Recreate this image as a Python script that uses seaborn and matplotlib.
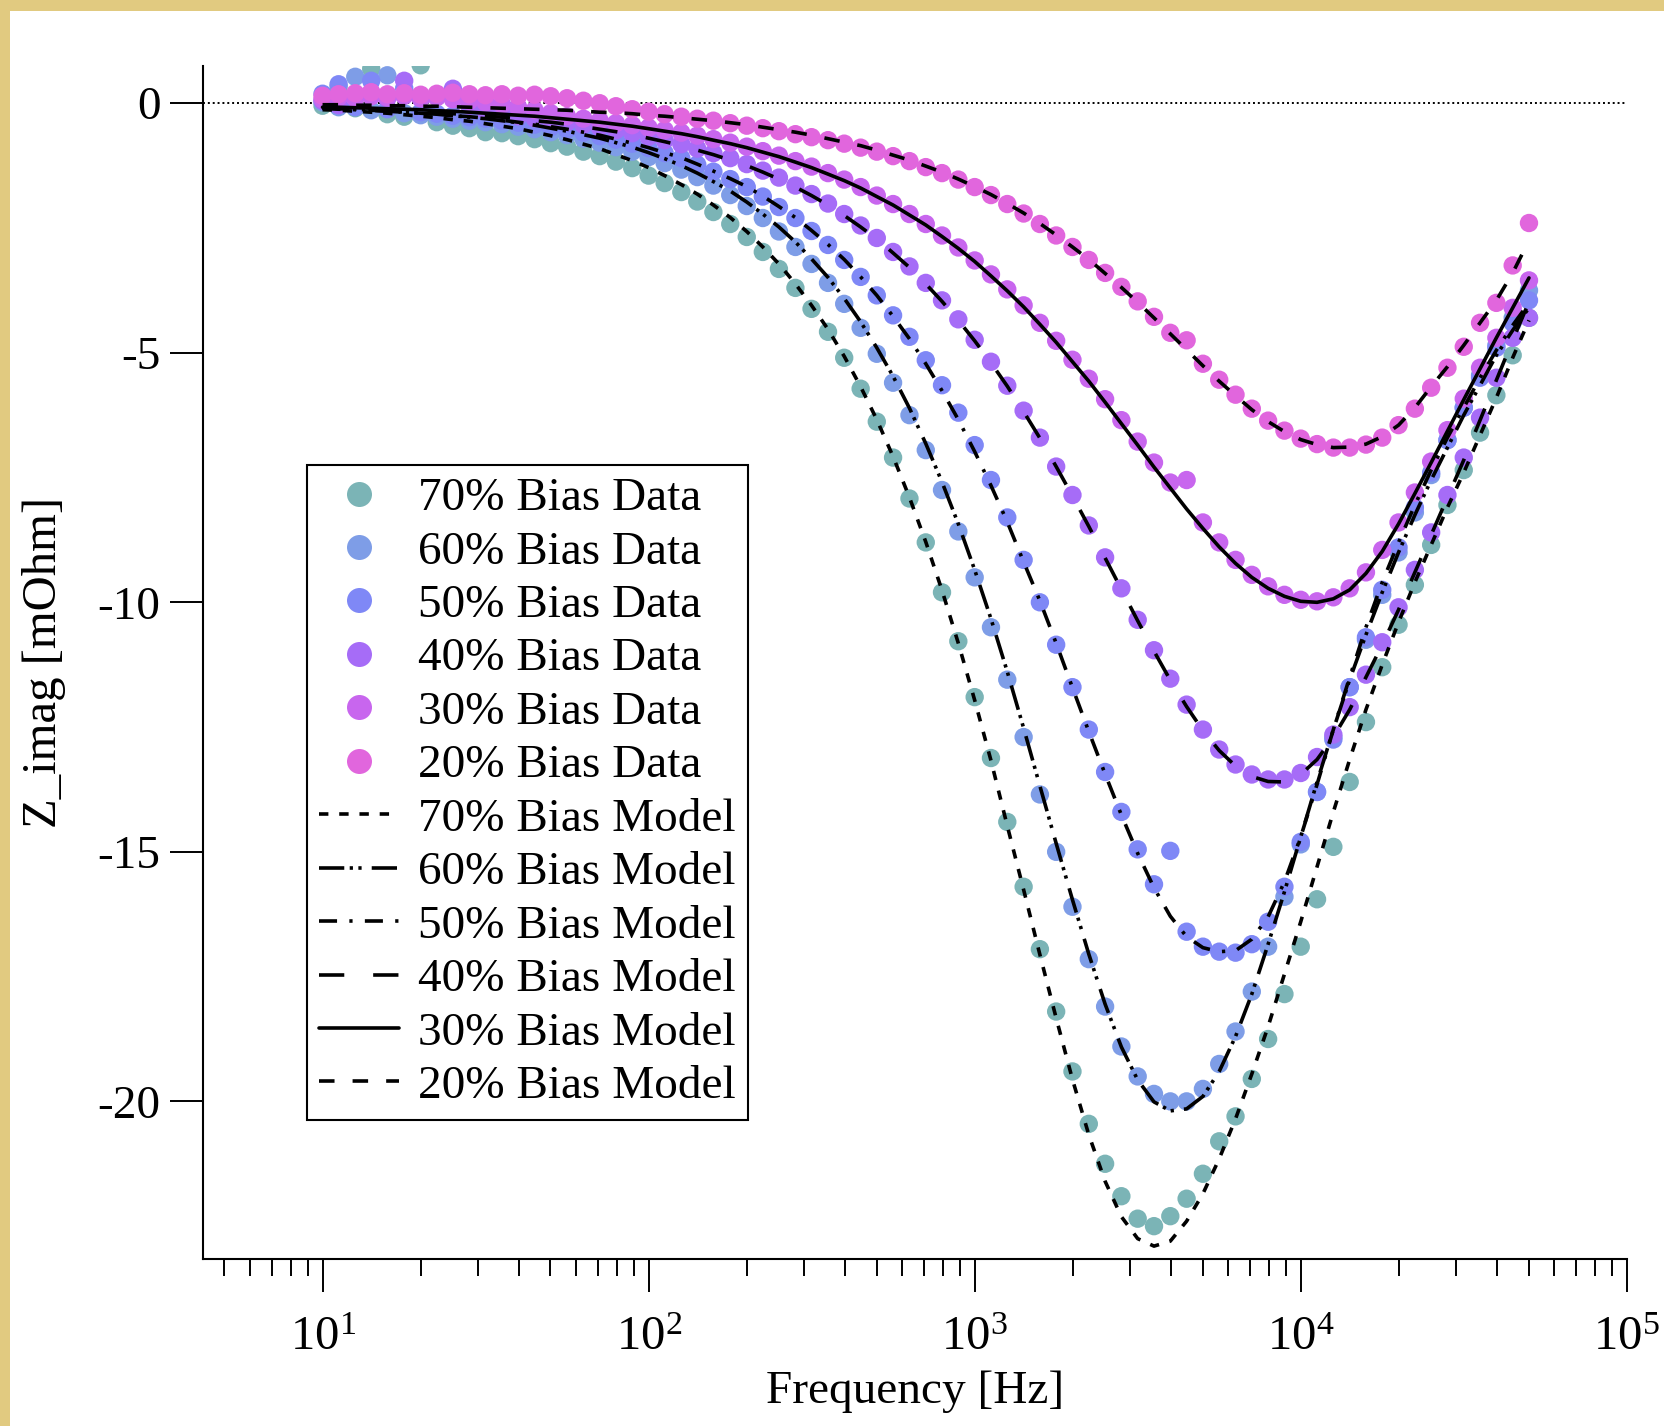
import numpy as np
import pandas as pd
import matplotlib
matplotlib.use("Agg")
import matplotlib.pyplot as plt
import seaborn as sns
from matplotlib.lines import Line2D
from matplotlib.patches import Rectangle
from matplotlib.ticker import LogLocator, NullFormatter

# ---------------- data ----------------
freq_hz = [10, 11.2, 12.6, 14.1, 15.8, 17.8, 20.0, 22.4, 25.1, 28.2,
           31.6, 35.5, 39.8, 44.7, 50.1, 56.2, 63.1, 70.8, 79.4, 89.1,
           100, 112, 126, 141, 158, 178, 200, 224, 251, 282,
           316, 355, 398, 447, 501, 562, 631, 708, 794, 891,
           1000, 1122, 1259, 1413, 1585, 1778, 1995, 2239, 2512, 2818,
           3162, 3548, 3981, 4467, 5012, 5623, 6310, 7079, 7943, 8913,
           10000, 11220, 12590, 14130, 15850, 17780, 19950, 22390, 25120, 28180,
           31620, 35480, 39810, 44670, 50120]

bias_levels = ["70%", "60%", "50%", "40%", "30%", "20%"]
data_colors = ["#7BB4B6", "#7E9DE7", "#7F88F6", "#A66CF7", "#C866EE", "#E166DD"]

data_70 = [-0.05, 0.33, -0.10, 0.69, -0.22, -0.27, 0.76, -0.38, -0.45, -0.50,
           -0.58, -0.60, -0.66, -0.72, -0.80, -0.87, -0.97, -1.06, -1.17, -1.30,
           -1.45, -1.60, -1.78, -1.97, -2.18, -2.42, -2.68, -2.98, -3.32, -3.70,
           -4.12, -4.58, -5.10, -5.72, -6.38, -7.10, -7.92, -8.80, -9.80, -10.78,
           -11.90, -13.12, -14.40, -15.70, -16.95, -18.20, -19.40, -20.45, -21.25, -21.90,
           -22.35, -22.50, -22.30, -21.95, -21.45, -20.80, -20.30, -19.55, -18.75, -17.85,
           -16.90, -15.95, -14.90, -13.60, -12.40, -11.30, -10.45, -9.65, -8.85, -8.05,
           -7.35, -6.60, -5.85, -5.05, -4.30]
data_60 = [0.02, -0.08, 0.53, -0.14, 0.56, -0.20, -0.24, -0.27, -0.31, -0.35,
           -0.38, -0.42, -0.47, -0.52, -0.58, -0.64, -0.71, -0.79, -0.88, -0.97,
           -1.08, -1.20, -1.33, -1.48, -1.65, -1.84, -2.06, -2.30, -2.57, -2.88,
           -3.22, -3.60, -4.02, -4.50, -5.02, -5.60, -6.25, -6.95, -7.75, -8.58,
           -9.50, -10.50, -11.55, -12.70, -13.85, -15.00, -16.10, -17.15, -18.10, -18.90,
           -19.50, -19.85, -20.00, -20.00, -19.75, -19.25, -18.60, -17.80, -16.90, -15.90,
           -14.85, -13.80, -12.70, -11.70, -10.75, -9.85, -9.00, -8.20, -7.45, -6.75,
           -6.10, -5.45, -4.85, -4.30, -3.75]
data_50 = [0.19, 0.38, -0.08, 0.45, -0.12, 0.30, -0.18, -0.21, -0.25, -0.28,
           -0.31, -0.35, -0.39, -0.43, -0.48, -0.53, -0.59, -0.66, -0.73, -0.81,
           -0.90, -1.00, -1.10, -1.23, -1.37, -1.52, -1.68, -1.87, -2.08, -2.30,
           -2.56, -2.84, -3.14, -3.48, -3.85, -4.25, -4.68, -5.15, -5.65, -6.20,
           -6.85, -7.55, -8.30, -9.15, -10.00, -10.85, -11.70, -12.55, -13.40, -14.20,
           -14.95, -15.65, -14.98, -16.60, -16.90, -17.00, -17.02, -16.85, -16.40, -15.70,
           -14.80, -13.80, -12.75, -11.70, -10.70, -9.75, -8.90, -8.10, -7.40, -6.75,
           -6.10, -5.50, -4.90, -4.40, -3.95]
data_40 = [0.05, -0.04, 0.12, 0.22, 0.10, 0.45, 0.10, 0.15, 0.29, -0.05,
           -0.15, -0.20, -0.26, -0.30, -0.34, -0.38, -0.43, -0.48, -0.54, -0.60,
           -0.67, -0.74, -0.82, -0.91, -1.00, -1.10, -1.22, -1.35, -1.49, -1.65,
           -1.82, -2.01, -2.22, -2.45, -2.70, -2.98, -3.27, -3.60, -3.95, -4.33,
           -4.74, -5.18, -5.66, -6.16, -6.70, -7.28, -7.85, -8.46, -9.10, -9.72,
           -10.35, -10.96, -11.53, -12.05, -12.55, -12.95, -13.25, -13.45, -13.55, -13.55,
           -13.42, -13.10, -12.65, -12.10, -11.45, -10.80, -10.10, -9.35, -8.60, -7.85,
           -7.10, -6.30, -5.50, -4.70, -4.30]
data_30 = [0.08, 0.12, 0.10, 0.14, 0.12, 0.15, 0.10, 0.12, 0.08, 0.05,
           0.02, -0.02, -0.08, -0.14, -0.20, -0.26, -0.31, -0.35, -0.40, -0.44,
           -0.49, -0.54, -0.59, -0.65, -0.72, -0.79, -0.87, -0.96, -1.05, -1.16,
           -1.27, -1.40, -1.53, -1.68, -1.85, -2.02, -2.22, -2.42, -2.65, -2.89,
           -3.15, -3.43, -3.73, -4.05, -4.40, -4.76, -5.14, -5.52, -5.93, -6.35,
           -6.78, -7.20, -7.60, -7.55, -8.40, -8.80, -9.15, -9.45, -9.68, -9.85,
           -9.95, -9.98, -9.90, -9.72, -9.40, -8.95, -8.40, -7.80, -7.18, -6.55,
           -5.92, -5.30, -4.70, -4.10, -3.55]
data_20 = [0.15, 0.18, 0.20, 0.22, 0.18, 0.20, 0.17, 0.19, 0.21, 0.18,
           0.16, 0.18, 0.15, 0.17, 0.14, 0.10, 0.05, 0.00, -0.06, -0.12,
           -0.17, -0.22, -0.27, -0.31, -0.35, -0.40, -0.45, -0.50, -0.56, -0.62,
           -0.68, -0.74, -0.81, -0.89, -0.97, -1.06, -1.16, -1.28, -1.40, -1.53,
           -1.68, -1.84, -2.02, -2.21, -2.42, -2.65, -2.88, -3.14, -3.40, -3.68,
           -3.97, -4.28, -4.60, -4.75, -5.22, -5.54, -5.84, -6.12, -6.36, -6.56,
           -6.72, -6.83, -6.90, -6.90, -6.84, -6.70, -6.45, -6.12, -5.70, -5.30,
           -4.88, -4.40, -4.00, -3.25, -2.40]

model_70 = [-0.13, -0.14, -0.16, -0.18, -0.20, -0.23, -0.26, -0.29, -0.33, -0.36,
            -0.41, -0.46, -0.51, -0.58, -0.65, -0.73, -0.82, -0.91, -1.03, -1.15,
            -1.29, -1.45, -1.63, -1.82, -2.04, -2.29, -2.57, -2.88, -3.22, -3.62,
            -4.05, -4.53, -5.07, -5.68, -6.34, -7.08, -7.90, -8.79, -9.76, -10.82,
            -11.96, -13.17, -14.48, -15.76, -17.06, -18.33, -19.56, -20.67, -21.60, -22.31,
            -22.75, -22.90, -22.80, -22.40, -21.85, -21.15, -20.35, -19.45, -18.50, -17.45,
            -16.40, -15.30, -14.20, -13.15, -12.15, -11.25, -10.40, -9.60, -8.85, -8.10,
            -7.40, -6.65, -5.90, -5.10, -4.35]
model_60 = [-0.10, -0.11, -0.12, -0.14, -0.16, -0.18, -0.20, -0.22, -0.25, -0.28,
            -0.31, -0.35, -0.39, -0.44, -0.50, -0.56, -0.63, -0.70, -0.79, -0.88,
            -0.99, -1.11, -1.25, -1.40, -1.57, -1.76, -1.98, -2.22, -2.48, -2.78,
            -3.12, -3.49, -3.91, -4.38, -4.90, -5.47, -6.11, -6.82, -7.59, -8.43,
            -9.35, -10.33, -11.39, -12.52, -13.68, -14.83, -15.96, -17.05, -18.05, -18.91,
            -19.57, -20.01, -20.19, -20.15, -19.90, -19.40, -18.70, -17.85, -16.85, -15.80,
            -14.70, -13.60, -12.55, -11.55, -10.65, -9.80, -9.00, -8.25, -7.55, -6.90,
            -6.25, -5.65, -5.05, -4.55, -4.10]
model_50 = [-0.10, -0.12, -0.13, -0.14, -0.16, -0.18, -0.20, -0.22, -0.25, -0.27,
            -0.30, -0.34, -0.38, -0.42, -0.47, -0.52, -0.58, -0.64, -0.72, -0.80,
            -0.89, -0.99, -1.09, -1.22, -1.36, -1.51, -1.67, -1.86, -2.07, -2.29,
            -2.55, -2.83, -3.13, -3.48, -3.85, -4.27, -4.72, -5.22, -5.76, -6.34,
            -6.98, -7.66, -8.39, -9.19, -9.97, -10.82, -11.71, -12.59, -13.44, -14.26,
            -15.03, -15.72, -16.29, -16.70, -16.92, -17.00, -16.98, -16.75, -16.30, -15.60,
            -14.70, -13.65, -12.55, -11.50, -10.50, -9.60, -8.80, -8.05, -7.35, -6.70,
            -6.10, -5.50, -4.95, -4.45, -4.00]
model_40 = [-0.09, -0.10, -0.12, -0.13, -0.14, -0.16, -0.17, -0.19, -0.21, -0.23,
            -0.26, -0.28, -0.31, -0.35, -0.38, -0.42, -0.47, -0.52, -0.57, -0.63,
            -0.70, -0.77, -0.85, -0.94, -1.03, -1.14, -1.25, -1.38, -1.52, -1.68,
            -1.85, -2.04, -2.25, -2.48, -2.72, -3.00, -3.29, -3.62, -3.97, -4.35,
            -4.76, -5.20, -5.67, -6.18, -6.71, -7.28, -7.87, -8.48, -9.11, -9.74,
            -10.37, -10.98, -11.56, -12.09, -12.57, -12.97, -13.28, -13.49, -13.59, -13.60,
            -13.45, -13.15, -12.70, -12.15, -11.50, -10.85, -10.15, -9.40, -8.65, -7.90,
            -7.15, -6.35, -5.55, -4.75, -3.98]
model_30 = [-0.08, -0.08, -0.09, -0.10, -0.11, -0.12, -0.13, -0.15, -0.16, -0.18,
            -0.20, -0.22, -0.24, -0.26, -0.29, -0.32, -0.35, -0.38, -0.42, -0.46,
            -0.51, -0.56, -0.61, -0.67, -0.74, -0.81, -0.89, -0.98, -1.07, -1.18,
            -1.29, -1.42, -1.55, -1.70, -1.87, -2.04, -2.24, -2.44, -2.67, -2.91,
            -3.17, -3.46, -3.76, -4.08, -4.43, -4.79, -5.18, -5.57, -5.99, -6.42,
            -6.85, -7.29, -7.71, -8.13, -8.52, -8.89, -9.22, -9.50, -9.72, -9.88,
            -9.98, -10.00, -9.93, -9.75, -9.42, -8.98, -8.43, -7.82, -7.20, -6.57,
            -5.94, -5.32, -4.70, -4.10, -3.50]
model_20 = [-0.03, -0.03, -0.04, -0.04, -0.05, -0.05, -0.06, -0.06, -0.07, -0.08,
            -0.09, -0.10, -0.11, -0.12, -0.13, -0.14, -0.16, -0.18, -0.19, -0.21,
            -0.24, -0.26, -0.29, -0.32, -0.35, -0.39, -0.43, -0.48, -0.53, -0.58,
            -0.64, -0.71, -0.78, -0.85, -0.94, -1.04, -1.14, -1.26, -1.38, -1.52,
            -1.67, -1.83, -2.01, -2.20, -2.41, -2.64, -2.88, -3.13, -3.41, -3.69,
            -3.99, -4.30, -4.62, -4.94, -5.26, -5.57, -5.86, -6.14, -6.38, -6.58,
            -6.74, -6.84, -6.90, -6.89, -6.83, -6.68, -6.45, -6.10, -5.68, -5.28,
            -4.85, -4.40, -3.95, -3.40, -2.75]

data_series = [data_70, data_60, data_50, data_40, data_30, data_20]
model_series = [model_70, model_60, model_50, model_40, model_30, model_20]

# ---------------- style ----------------
sns.set_theme(style="ticks")
plt.rcParams["font.family"] = ["Liberation Serif", "DejaVu Serif"]
plt.rcParams["mathtext.fontset"] = "custom"
plt.rcParams["mathtext.rm"] = "Liberation Serif"
plt.rcParams["mathtext.it"] = "Liberation Serif:italic"
plt.rcParams["mathtext.bf"] = "Liberation Serif:bold"
plt.rcParams["axes.unicode_minus"] = False
for k in ["text.color", "axes.labelcolor", "xtick.color", "ytick.color", "axes.edgecolor"]:
    plt.rcParams[k] = "black"

W, H = 1664, 1426
fig = plt.figure(figsize=(W / 100, H / 100), dpi=100, facecolor="#E1CA80")
fig.patches.append(Rectangle((10 / W, 0), 1 - 10 / W, 1 - 11 / H, transform=fig.transFigure,
                             facecolor="white", edgecolor="none", zorder=-10))
ax = fig.add_axes([202.7 / W, 167.4 / H, 1424.1 / W, 1192.8 / H])
ax.set_facecolor("white")
ax.set_zorder(1)

# long-form tables
df_data = pd.DataFrame(
    [(f, v, b) for b, vals in zip(bias_levels, data_series) for f, v in zip(freq_hz, vals)],
    columns=["freq", "zimag", "bias"])
df_model = pd.DataFrame(
    [(f, v, b) for b, vals in zip(bias_levels, model_series) for f, v in zip(freq_hz, vals)],
    columns=["freq", "zimag", "bias"])

ax.set_xscale("log")
ax.axhline(0, color="black", lw=1.4, linestyle=(0, (1.0, 1.5)), zorder=1)

sns.scatterplot(data=df_data, x="freq", y="zimag", hue="bias", hue_order=bias_levels,
                palette=dict(zip(bias_levels, data_colors)), s=175, linewidth=0,
                legend=False, ax=ax, zorder=2)

dash_map = {"70%": (2.6, 3.0), "60%": (7, 1.5, 0.9, 1.5, 0.9, 2.8), "50%": (5, 3.4, 0.9, 3.4),
            "40%": (7, 8), "30%": "", "20%": (4.3, 5)}
lw_model = 2.6
sns.lineplot(data=df_model, x="freq", y="zimag", style="bias", style_order=bias_levels,
             dashes=dash_map, color="black", lw=lw_model, estimator=None, sort=False,
             legend=False, ax=ax, zorder=3)

ax.set_xlim(4.29, 1e5)
ax.set_ylim(-23.15, 0.75)
ax.xaxis.set_major_locator(LogLocator(base=10, numticks=10))
ax.xaxis.set_minor_locator(LogLocator(base=10, subs=np.arange(2, 10), numticks=40))
ax.xaxis.set_minor_formatter(NullFormatter())
ax.set_yticks([0, -5, -10, -15, -20])
ax.tick_params(axis="both", which="major", direction="out", length=23.5, width=1.4,
               bottom=True, left=True)
ax.tick_params(axis="x", which="major", labelsize=35, pad=18)
ax.tick_params(axis="y", which="major", labelsize=34, pad=7)
ax.tick_params(axis="x", which="minor", direction="out", length=12, width=1.4, bottom=True)
ax.tick_params(axis="y", which="minor", left=False)

for side in ["top", "right"]:
    ax.spines[side].set_visible(False)
for side in ["left", "bottom"]:
    ax.spines[side].set_linewidth(1.5)
    ax.spines[side].set_color("black")

ax.set_xlabel("Frequency [Hz]", fontsize=34)
ax.set_ylabel("Z_imag [mOhm]", fontsize=35)
ax.xaxis.set_label_coords(0.5, -0.0935)
ax.yaxis.set_label_coords(-0.096, 0.5)

handles = [Line2D([], [], marker="o", color=c, linestyle="none", markersize=18, markeredgewidth=0)
           for c in data_colors]
for b in bias_levels:
    d = dash_map[b]
    ls = "-" if d == "" else (0, d)
    handles.append(Line2D([], [], color="black", lw=lw_model, linestyle=ls))
labels = [f"{b} Bias Data" for b in bias_levels] + [f"{b} Bias Model" for b in bias_levels]
leg = ax.legend(handles, labels, loc="upper left", bbox_to_anchor=(0.0730, 0.6655),
                frameon=True, fancybox=False, edgecolor="black", framealpha=1, fontsize=34,
                borderpad=0.26, labelspacing=0.22, handlelength=1.69, handletextpad=0.40,
                borderaxespad=0)
leg.get_frame().set_linewidth(1.5)

fig.savefig("out.png", dpi=100, facecolor=fig.get_facecolor())
